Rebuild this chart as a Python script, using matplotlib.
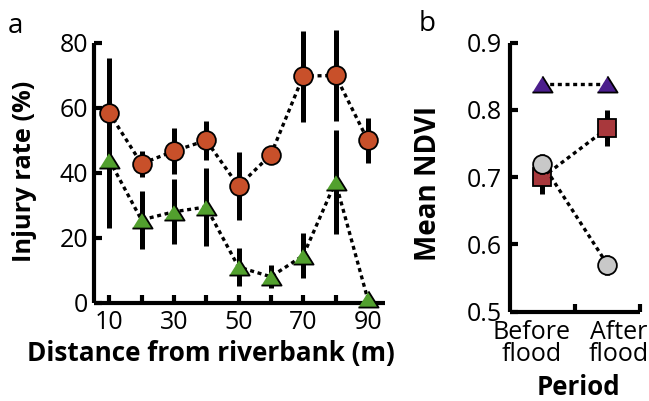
import numpy as np
import matplotlib.pyplot as plt

plt.rcParams['font.family'] = ['Open Sans', 'DejaVu Sans']

# panel a: injury rate vs distance
distance = [10, 20, 30, 40, 50, 60, 70, 80, 90]
orange_rate = [58.5, 42.8, 46.7, 50.0, 35.9, 45.6, 69.8, 70.0, 50.0]
orange_err = [17, 4, 7, 6, 10.5, 1, 14, 14, 7]
green_rate = [44, 25.5, 28, 29.5, 11, 8, 14.5, 37.2, 1]
green_err = [21, 9, 10, 12, 6, 3.5, 7, 16, 0]

# panel b: NDVI before/after flood
periods = ["Before\nflood", "After\nflood"]
gray_ndvi = [0.720, 0.570]
gray_err = [0.015, 0.015]
red_ndvi = [0.700, 0.773]
red_err = [0.025, 0.027]
purple_ndvi = [0.838, 0.838]
purple_err = [0.006, 0.006]

ORANGE = '#C8502A'
GREEN = '#52A02E'
PURPLE = '#4B1E8C'
RED = '#A8383C'
GRAY = '#C8C8C8'
TRI = [(-1, -0.8), (1, -0.8), (0, 0.8)]

fig = plt.figure(figsize=(6.49, 4.01), dpi=100)
axA = fig.add_axes([0.1448, 0.2451, 0.4484, 0.6477])
axB = fig.add_axes([0.7858, 0.2227, 0.2003, 0.6708])


def series(ax, x, y, err, color, marker, ms, z=0):
    ax.errorbar(x, y, yerr=err, fmt='none', ecolor='black', elinewidth=3.6,
                capsize=0, clip_on=False, zorder=2 + z)
    ax.plot(x, y, color='black', lw=2.4, ls=(0, (1.2, 1.1)), clip_on=False, zorder=3 + z)
    ax.plot(x, y, ls='none', marker=marker, ms=ms, mfc=color, mec='black',
            mew=1.3, clip_on=False, zorder=4 + z)


def style(ax):
    for s in ['top', 'right']:
        ax.spines[s].set_visible(False)
    for s in ['left', 'bottom']:
        ax.spines[s].set_linewidth(3)
        ax.spines[s].set_capstyle('butt')
    ax.tick_params(which='both', direction='in', width=3, length=6, labelsize=18)


series(axA, distance, green_rate, green_err, GREEN, TRI, 14.5)
series(axA, distance, orange_rate, orange_err, ORANGE, 'o', 13.5)
axA.set_xlim(5.3, 95.3)
axA.set_ylim(0, 80)
axA.set_xticks(range(10, 100, 10))
axA.set_xticklabels([str(d) if d % 20 == 10 else '' for d in range(10, 100, 10)])
axA.set_yticks([0, 20, 40, 60, 80])
style(axA)
axA.tick_params(axis='y', pad=4)
axA.tick_params(axis='x', pad=5)
axA.set_ylabel('Injury rate (%)', fontsize=18.3, fontweight='bold', va='center')
axA.yaxis.set_label_coords(-0.24, 0.507)
axA.set_xlabel('Distance from riverbank (m)', fontsize=18.8, fontweight='bold')
axA.xaxis.set_label_coords(0.40, -0.195)
axA.xaxis.label.set_va('center')

xb = np.arange(len(periods))
series(axB, xb, red_ndvi, red_err, RED, 's', 13)
series(axB, xb, gray_ndvi, gray_err, GRAY, 'o', 13.5, z=3)
series(axB, xb, purple_ndvi, purple_err, PURPLE, TRI, 14.5)
axB.set_xlim(-0.5, 1.5)
axB.set_ylim(0.5, 0.9)
axB.set_yticks([0.5, 0.6, 0.7, 0.8, 0.9])
axB.set_yticklabels(['0.5', '0.6', '0.7', '0.8', '0.9'])
axB.set_xticks([-0.17, 1.17])
axB.set_xticklabels(periods, linespacing=0.85)
axB.set_xticks([0.5, 1.5], minor=True)
style(axB)
axB.tick_params(axis='x', which='major', length=0, pad=6)
axB.tick_params(axis='y', pad=6)
axB.set_ylabel('Mean NDVI', fontsize=20, fontweight='bold', va='center')
axB.yaxis.set_label_coords(-0.63, 0.477)
axB.set_xlabel('Period', fontsize=18.6, fontweight='bold')
axB.xaxis.set_label_coords(0.53, -0.28)
axB.xaxis.label.set_va('center')

fig.text(0.012, 0.935, 'a', fontsize=20, va='center')
fig.text(0.645, 0.940, 'b', fontsize=20, va='center')

fig.savefig('out.png', dpi=100)
